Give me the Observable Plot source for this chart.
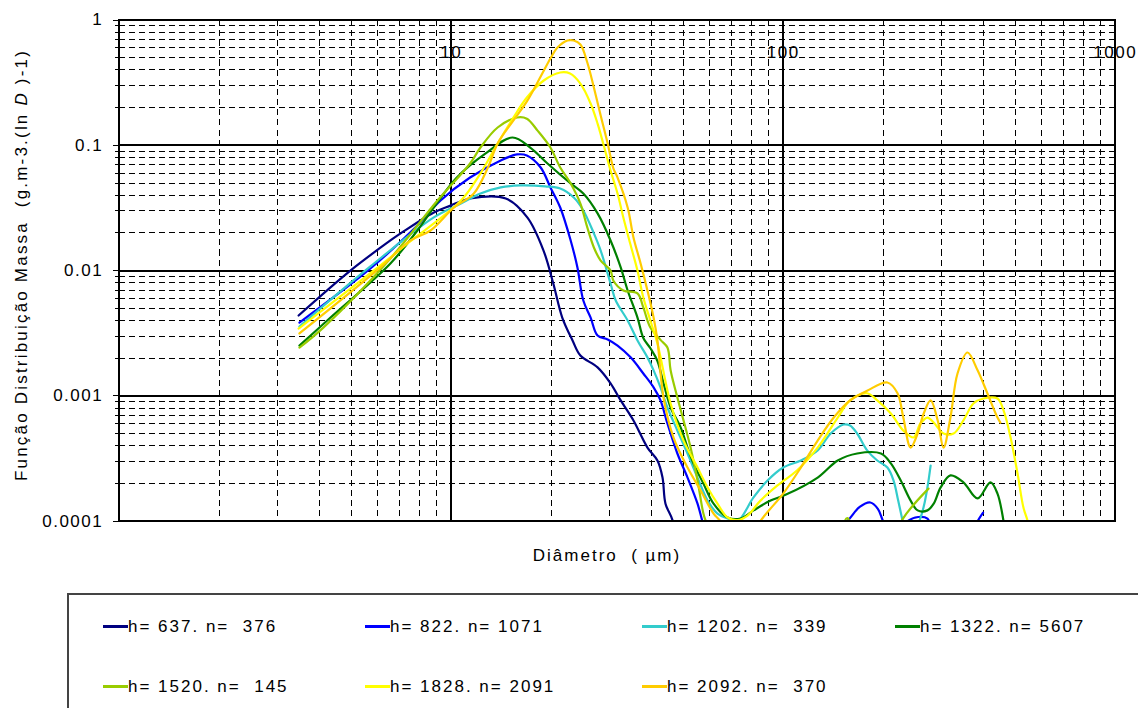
<!DOCTYPE html>
<html><head><meta charset="utf-8">
<script src="https://cdn.jsdelivr.net/npm/d3@7"></script>
<script src="https://cdn.jsdelivr.net/npm/@observablehq/plot@0.6"></script>
<style>
html,body{margin:0;padding:0;background:#fff;}
#wrap{position:relative;width:1138px;height:708px;overflow:hidden;font-family:Arial,"Liberation Sans",sans-serif;}
#wrap svg{position:absolute;left:0;top:0;}
#legend{position:absolute;left:67px;top:593px;width:1120px;height:160px;border:2px solid #444;box-sizing:border-box;}
.item{position:absolute;height:20px;display:flex;align-items:center;}
.item .sw{width:25px;height:3px;}
.item .lb{font-size:17px;letter-spacing:2px;white-space:pre;color:#000;line-height:20px;}
</style></head>
<body><div id="wrap"><div id="legend"></div></div>
<script>
// ---- data: [diameter (µm), mass distribution] ----
const s637 = [[3.47,0.00438],[4.97,0.0100],[6.56,0.0174],[7.04,0.0198],[8.84,0.0290],[9.95,0.0330],[11.4,0.0376],[14.6,0.0376],[16.97,0.0265],[18.97,0.01446],[20.3,0.00789],[21.6,0.00422],[23.2,0.00277],[24.5,0.0021],[27.6,0.00169],[30.2,0.00126],[32.4,0.00092],[35.4,0.000637],[39.0,0.000387],[41.8,0.000305],[43.3,0.000223],[44.2,0.000138],[46.4,0.000102],[48,0.00006]];
const s822 = [[3.49,0.00385],[5.71,0.0104],[7.91,0.0229],[9.29,0.0363],[11.4,0.0553],[14.1,0.0757],[15.8,0.0845],[16.9,0.0829],[18.6,0.0665],[19.9,0.0461],[21.3,0.0319],[22.9,0.0174],[24.0,0.0106],[25.0,0.00577],[26.3,0.00422],[27.6,0.00303],[29.6,0.00282],[31.7,0.00252],[34.7,0.00203],[37.9,0.00151],[40.7,0.00117],[42.7,0.00092],[44.8,0.000602],[48.0,0.000347],[51.5,0.000223],[55.2,0.000138],[57.1,0.0001],[62,0.00005],[120,0.00005],[156,0.0001],[170,0.00013],[183,0.000141],[193,0.000125],[200,0.0001],[215,0.00007],[237,0.0001],[255,0.000108],[272,0.000105],[285,0.00008],[360,0.00007],[385,0.0001],[400,0.000117]];
const s1202 = [[3.49,0.00358],[5.71,0.0108],[8.84,0.0265],[10.7,0.0343],[12.25,0.0412],[14.1,0.0461],[16.2,0.0478],[19.2,0.0470],[21.3,0.0452],[23.4,0.0383],[25.0,0.0302],[26.9,0.0198],[28.2,0.01446],[30.2,0.00789],[31.3,0.00577],[34.0,0.0040],[36.4,0.00277],[39.0,0.00203],[40.7,0.0016],[42.7,0.00117],[44.8,0.000808],[48.0,0.00053],[51.5,0.000347],[55.2,0.000223],[59.2,0.000146],[63.4,0.000115],[68.0,0.000105],[72.8,0.0001],[81.4,0.000155],[89.7,0.000211],[100,0.000268],[113,0.000305],[127,0.000367],[139,0.000501],[152,0.000591],[159,0.00058],[167,0.000501],[179,0.000367],[192,0.000305],[206,0.000268],[215,0.000211],[222,0.000146],[229,0.0001],[236,0.00007],[259,0.000106],[278,0.000278]];
const s1322 = [[3.49,0.00252],[4.33,0.00422],[6.56,0.0114],[7.91,0.0209],[9.09,0.035],[10.4,0.0553],[12.7,0.0861],[15.3,0.1154],[17.3,0.096],[19.5,0.0716],[22.9,0.0496],[25.0,0.0412],[27.6,0.0286],[30.2,0.0174],[32.4,0.0106],[34.0,0.00694],[36.4,0.00422],[37.9,0.0029],[39.8,0.0024],[41.8,0.0019],[43.6,0.00126],[45.8,0.000808],[49.1,0.00056],[51.5,0.000387],[53.7,0.000289],[57.5,0.0002],[61.7,0.000138],[68.0,0.000107],[74.4,0.000105],[81.4,0.000122],[91.6,0.000146],[102,0.000163],[127,0.000223],[146,0.000305],[167,0.000347],[197,0.000347],[211,0.000289],[226,0.000211],[242,0.000146],[254,0.000122],[272,0.000122],[284,0.000138],[298,0.000186],[319,0.000232],[349,0.000204],[385,0.000152],[421,0.000204],[442,0.000166],[461,0.0001],[470,0.00007]];
const s1520 = [[3.49,0.00243],[4.12,0.00351],[6.56,0.0125],[9.09,0.0363],[11.4,0.0716],[12.25,0.096],[13.8,0.1387],[15.8,0.1667],[16.9,0.163],[18.2,0.131],[19.9,0.096],[21.3,0.0665],[22.9,0.0496],[24.5,0.0343],[25.7,0.0221],[26.9,0.0153],[28.2,0.012],[30.2,0.0100],[30.8,0.0083],[33.0,0.00694],[36.4,0.00657],[37.9,0.00508],[39.8,0.00351],[42.7,0.0028],[44.8,0.00243],[45.8,0.0016],[48.0,0.00097],[50.1,0.000637],[52.6,0.000387],[55.2,0.000211],[57.5,0.000115],[58.5,0.0001],[65,0.00006],[140,0.00006],[156,0.000106],[165,0.00006],[200,0.00005],[230,0.000106],[274,0.000182]];
const s1828 = [[3.47,0.00345],[6.12,0.011],[7.39,0.01645],[10.7,0.0362],[12.25,0.0597],[13.8,0.1034],[15.4,0.1667],[16.9,0.2407],[19.0,0.329],[21.3,0.381],[22.8,0.374],[24.5,0.311],[26.3,0.2157],[27.6,0.149],[28.7,0.1034],[30.2,0.0629],[31.7,0.0412],[33.0,0.0265],[34.6,0.01645],[36.4,0.01],[37.9,0.0061],[39.8,0.004],[41.8,0.00262],[45.8,0.00087],[50.1,0.00044],[55.2,0.000268],[59.2,0.000186],[63.4,0.000138],[68.0,0.000107],[72.8,0.000102],[78.1,0.000111],[85.4,0.000146],[96.1,0.000193],[110,0.000254],[127,0.000387],[146,0.000672],[159,0.00092],[179,0.00105],[192,0.00092],[211,0.000724],[230,0.00053],[247,0.000466],[259,0.000602],[272,0.000672],[284,0.000613],[304,0.000501],[326,0.000501],[349,0.000637],[374,0.00087],[401,0.000953],[442,0.000953],[461,0.000765],[484,0.000466],[508,0.00024],[529,0.000129],[545,0.0001],[555,0.00008]];
const s2092 = [[3.49,0.00315],[6.12,0.0106],[7.54,0.0174],[8.66,0.0209],[10.2,0.0319],[11.7,0.0412],[12.9,0.0665],[13.8,0.1034],[15.4,0.158],[16.9,0.224],[18.6,0.354],[19.9,0.493],[20.9,0.603],[22.4,0.686],[23.4,0.686],[24.5,0.637],[25.7,0.458],[26.9,0.289],[28.2,0.173],[29.6,0.1034],[30.8,0.0653],[31.7,0.0553],[34.0,0.0319],[35.4,0.0184],[37.2,0.0114],[39.0,0.00694],[40.7,0.00422],[41.8,0.00277],[43.6,0.00097],[46.7,0.000466],[51.5,0.000268],[56.4,0.000176],[61.7,0.000115],[64.7,0.0001],[70,0.00007],[80,0.00007],[85.4,0.0001],[100,0.000166],[113,0.000268],[127,0.00044],[142,0.000672],[159,0.00092],[179,0.0011],[206,0.00128],[221,0.00105],[230,0.000672],[242,0.000387],[254,0.000501],[265,0.000724],[278,0.00092],[292,0.000637],[304,0.000387],[319,0.000672],[335,0.00151],[359,0.00222],[385,0.0016],[412,0.00105],[442,0.000672],[451,0.000613]];

const seriesNames = ["h= 637. n=  376","h= 822. n= 1071","h= 1202. n=  339","h= 1322. n= 5607","h= 1520. n=  145","h= 1828. n= 2091","h= 2092. n=  370"];
const seriesData = [s637, s822, s1202, s1322, s1520, s1828, s2092];
const seriesColors = ["#000080","#0000FF","#33CCCC","#008000","#99CC00","#FFFF00","#FFCC00"];

const xTicks = [10, 100, 1000];
const xTickLabels = ["10", "100", "1000"];
const yTicks = [1, 0.1, 0.01, 0.001, 0.0001];
const yTickLabels = ["1", "0.1", "0.01", "0.001", "0.0001"];
const multipliers = [2,3,4,5,6,7,8,9];
const xDecades = [1, 10, 100];
const yDecades = [0.0001, 0.001, 0.01, 0.1];
const xMajor = [10, 100];
const yMajor = [0.001, 0.01, 0.1];

const xMinor = xDecades.flatMap(d => multipliers.map(m => d * m));
const yMinor = yDecades.flatMap(d => multipliers.map(m => +(d * m).toPrecision(3)));

const rows = seriesData.flatMap((arr, i) => arr.map(([D, V]) => ({D, V, s: seriesNames[i]})));

const W = 1138, H = 580;
const dash = "6,4";
const crisp = {shapeRendering: "crispEdges"};
const plot = Plot.plot({
  width: W, height: H,
  marginLeft: 118.7, marginRight: 23.3, marginTop: 19.5, marginBottom: 59.3,
  style: {fontFamily: 'Arial, "Liberation Sans", sans-serif', fontSize: "17px", color: "#000", background: "transparent", letterSpacing: "1.5px"},
  x: {type: "log", domain: [1, 1000], label: null},
  y: {type: "log", domain: [0.0001, 1], label: null},
  color: {domain: seriesNames, range: seriesColors},
  marks: [
    Plot.ruleX(xMinor, {stroke: "#000", strokeWidth: 1, strokeDasharray: dash, ...crisp}),
    Plot.ruleY(yMinor, {stroke: "#000", strokeWidth: 1, strokeDasharray: dash, ...crisp}),
    Plot.ruleX(xMajor, {stroke: "#000", strokeWidth: 2, ...crisp}),
    Plot.ruleY(yMajor, {stroke: "#000", strokeWidth: 2, ...crisp}),
    Plot.line(rows, {x: "D", y: "V", z: "s", stroke: "s", strokeWidth: 2.2, curve: "catmull-rom", clip: true}),
    Plot.frame({stroke: "#000", strokeWidth: 2, ...crisp}),
    Plot.axisY(yMinor, {tickSize: 4, tickFormat: () => "", stroke: "#000", ...crisp}),
    Plot.axisY({ticks: yTicks, tickSize: 6, tickPadding: 10, stroke: "#000", fill: "#000", ...crisp,
      tickFormat: d => yTickLabels[yTicks.indexOf(d)]}),
    Plot.axisX({anchor: "top", ticks: xTicks, tickSize: 0, tickPadding: 0, dy: 38, fill: "#000",
      tickFormat: d => xTickLabels[xTicks.indexOf(d)]})
  ]
});

const svg = d3.select(plot);
// y axis title with italic D
const yt = svg.append("text")
  .attr("transform", "translate(27,265) rotate(-90)")
  .attr("text-anchor", "middle")
  .attr("fill", "#000")
  .style("font-size", "17px")
  .style("letter-spacing", "2.2px");
yt.append("tspan").text("Função Distribuição Massa  (g.m-3.(ln ");
yt.append("tspan").style("font-style", "italic").text("D");
yt.append("tspan").text(" )-1)");
// x axis title
svg.append("text")
  .attr("x", 607).attr("y", 561)
  .attr("text-anchor", "middle")
  .attr("fill", "#000")
  .style("font-size", "17px")
  .style("letter-spacing", "2px")
  .text("Diâmetro  ( µm)");

const wrap = document.getElementById("wrap");
wrap.insertBefore(plot, wrap.firstChild);

// legend (HTML, below the chart)
const legendCols = [103, 365, 642, 895];
const legendRows = [626.7, 686.7];
seriesNames.forEach((name, i) => {
  const it = document.createElement("div");
  it.className = "item";
  it.style.left = legendCols[i % 4] + "px";
  it.style.top = (legendRows[Math.floor(i / 4)] - 10) + "px";
  const sw = document.createElement("span");
  sw.className = "sw"; sw.style.background = seriesColors[i];
  const lb = document.createElement("span");
  lb.className = "lb"; lb.textContent = name;
  it.appendChild(sw); it.appendChild(lb);
  wrap.appendChild(it);
});
</script></body></html>
